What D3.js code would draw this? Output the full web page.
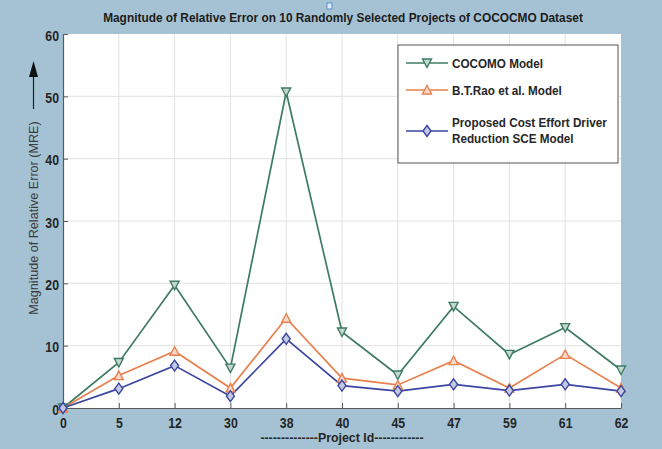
<!DOCTYPE html>
<html>
<head>
<meta charset="utf-8">
<script src="https://cdn.jsdelivr.net/npm/d3@7"></script>
<style>
  body { margin: 0; background: #a4c2d3; }
  svg { display: block; }
  text { font-family: "Liberation Sans", Arial, sans-serif; }
</style>
</head>
<body>
<svg id="chart" width="662" height="449"></svg>
<script>
// project ids along the x axis (categorical, evenly spaced)
const projects = ["0", "5", "12", "30", "38", "40", "45", "47", "59", "61", "62"];
const cocomo   = [0, 7.3, 19.7, 6.4, 50.7, 12.2, 5.3, 16.3, 8.6, 12.9, 6.1];
const raoModel = [0, 5.2, 9.1, 3.2, 14.4, 4.8, 3.7, 7.6, 3.2, 8.6, 3.2];
const proposed = [0, 3.1, 6.8, 1.9, 11.1, 3.6, 2.7, 3.8, 2.8, 3.8, 2.7];
const yTicks   = [0, 10, 20, 30, 40, 50, 60];

const series = [
  {name: ["COCOMO Model"], values: cocomo, color: "#3e7c62", marker: "down"},
  {name: ["B.T.Rao et al. Model"], values: raoModel, color: "#e8804e", marker: "up"},
  {name: ["Proposed Cost Effort Driver", "Reduction SCE Model"], values: proposed, color: "#3a46a0", marker: "diamond"}
];

const svg = d3.select("#chart");
let margin = {top: 34, right: 41, bottom: 41, left: 63};
let width = 662 - margin.left - margin.right;
let height = 449 - margin.top - margin.bottom;

let x = d3.scalePoint().domain(projects).range([0, width]);
let y = d3.scaleLinear().domain([0, 60]).range([height, 0]);

// squeeze text horizontally, the original uses a narrow font
function condense(sel, k) {
  sel.each(function() {
    let len = this.getComputedTextLength();
    d3.select(this).attr("textLength", len * k).attr("lengthAdjust", "spacingAndGlyphs");
  });
}

// little blue square artifact at top
svg.append("rect")
  .attr("x", 327).attr("y", 3).attr("width", 5).attr("height", 6)
  .attr("fill", "#dfeaf5").attr("stroke", "#5a8fd0").attr("stroke-width", 1);

// title
svg.append("text")
  .attr("x", 343).attr("y", 22)
  .attr("text-anchor", "middle")
  .attr("font-size", 12.5).attr("font-weight", "bold").attr("fill", "#1c1c1c")
  .text("Magnitude of Relative Error on 10 Randomly Selected Projects of COCOCMO Dataset")
  .call(condense, 0.95);

let g = svg.append("g")
  .attr("transform", "translate(" + margin.left + "," + margin.top + ")");

g.append("rect")
  .attr("width", width).attr("height", height)
  .attr("fill", "#ffffff");

// grid
g.append("g").selectAll("line")
  .data(yTicks.slice(1, -1))
  .enter().append("line")
  .attr("x1", 0).attr("x2", width)
  .attr("y1", d => y(d)).attr("y2", d => y(d))
  .attr("stroke", "#e2e2e2").attr("stroke-width", 1);
g.append("g").selectAll("line")
  .data(projects.slice(1, -1))
  .enter().append("line")
  .attr("x1", d => x(d)).attr("x2", d => x(d))
  .attr("y1", 0).attr("y2", height)
  .attr("stroke", "#e2e2e2").attr("stroke-width", 1);

// axes
let xAxis = g.append("g")
  .attr("transform", "translate(0," + height + ")")
  .call(d3.axisBottom(x).tickSizeInner(-5).tickSizeOuter(0).tickPadding(9));
let yAxis = g.append("g")
  .call(d3.axisLeft(y).tickValues(yTicks).tickSizeInner(-5).tickSizeOuter(0).tickPadding(4));

[xAxis, yAxis].forEach(function(a) {
  a.select(".domain").attr("stroke", "#5a5a5a").attr("stroke-width", 1.2);
  a.selectAll(".tick line").attr("stroke", "#5a5a5a");
  a.selectAll(".tick text")
    .attr("font-family", "\"Liberation Sans\", Arial, sans-serif")
    .attr("font-size", 15).attr("font-weight", "bold").attr("fill", "#262626")
    .call(condense, 0.82);
});
yAxis.selectAll(".tick text").attr("dy", "0.4em");

// axis labels
svg.append("text")
  .attr("x", 342).attr("y", 442)
  .attr("text-anchor", "middle")
  .attr("font-size", 13).attr("font-weight", "bold").attr("fill", "#262626")
  .text("--------------Project Id------------")
  .call(condense, 0.95);

let yl = svg.append("g").attr("transform", "translate(38,218) rotate(-90)");
yl.append("text")
  .attr("x", 0).attr("y", 0)
  .attr("text-anchor", "middle")
  .attr("font-size", 13).attr("fill", "#3c3c3c")
  .text("Magnitude of Relative Error (MRE)")
  .call(condense, 0.97);
yl.append("line")
  .attr("x1", 109).attr("x2", 143).attr("y1", -4.5).attr("y2", -4.5)
  .attr("stroke", "#222").attr("stroke-width", 1.2);
yl.append("path")
  .attr("d", "M157,-4.5 L141,-9 L141,0 Z")
  .attr("fill", "#111");

// lines and markers
let line = d3.line()
  .x((d, i) => x(projects[i]))
  .y(d => y(d));

function markerPath(type) {
  if (type === "down") return "M-4.5,-4 L4.5,-4 L0,4.5 Z";
  if (type === "up") return "M-4.5,4 L4.5,4 L0,-4.5 Z";
  return "M0,-5.5 L4,0 L0,5.5 L-4,0 Z";
}

series.forEach(function(s) {
  g.append("path")
    .datum(s.values)
    .attr("d", line)
    .attr("fill", "none")
    .attr("stroke", s.color).attr("stroke-width", 1.7);
});
series.forEach(function(s) {
  g.append("g").selectAll("path")
    .data(s.values)
    .enter().append("path")
    .attr("transform", (d, i) => "translate(" + x(projects[i]) + "," + y(d) + ")")
    .attr("d", markerPath(s.marker))
    .attr("fill", d3.interpolateRgb("#ffffff", s.color)(0.3))
    .attr("stroke", s.color).attr("stroke-width", 1.4);
});

// legend
let lg = svg.append("g").attr("transform", "translate(398,45)");
lg.append("rect")
  .attr("width", 220).attr("height", 118)
  .attr("fill", "#ffffff")
  .attr("stroke", "#555").attr("stroke-width", 1);

let rows = [18, 45, 86];
series.forEach(function(s, i) {
  let r = lg.append("g").attr("transform", "translate(0," + rows[i] + ")");
  r.append("line")
    .attr("x1", 8).attr("x2", 50).attr("y1", 0).attr("y2", 0)
    .attr("stroke", s.color).attr("stroke-width", 1.7);
  r.append("path")
    .attr("transform", "translate(29,0)")
    .attr("d", markerPath(s.marker))
    .attr("fill", d3.interpolateRgb("#ffffff", s.color)(0.3))
    .attr("stroke", s.color).attr("stroke-width", 1.4);
  s.name.forEach(function(n, k) {
    r.append("text")
      .attr("x", 54).attr("y", (s.name.length > 1 ? -4 : 4.5) + k * 16)
      .attr("font-size", 13).attr("font-weight", "bold").attr("fill", "#262626")
      .text(n)
      .call(condense, 0.9);
  });
});
</script>
</body>
</html>
